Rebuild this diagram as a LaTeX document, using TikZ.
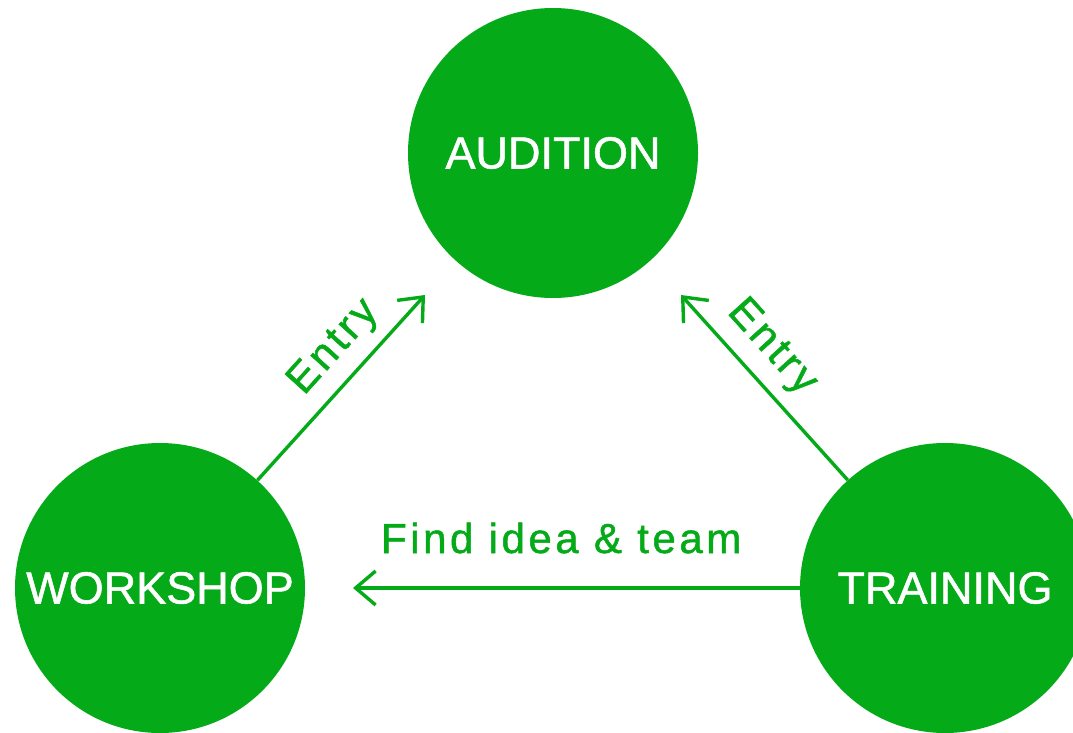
\documentclass[tikz,border=0pt]{standalone}
\usepackage{fontspec}
\setmainfont{Liberation Sans}
\newfontfamily\stagefont[FakeBold=1.2]{Liberation Sans}
\newfontfamily\labelfont[LetterSpace=8.5, FakeBold=1.2]{Liberation Sans}
\usetikzlibrary{arrows.meta}
\definecolor{brandgreen}{RGB}{5,170,25}
\tikzset{
  stage/.style={circle, fill=brandgreen, minimum size=290pt, inner sep=0pt,
    text=white, font=\stagefont\fontsize{45}{45}\selectfont},
  flow/.style={draw=brandgreen, line width=3.4pt,
    -{Straight Barb[length=20pt, width=34pt, line width=3.4pt]}},
  flowlabel/.style={text=brandgreen, font=\labelfont\fontsize{42}{42}\selectfont, inner sep=0pt}
}
\begin{document}
\begin{tikzpicture}[x=1pt, y=-1pt]
\useasboundingbox (0,0) rectangle (1073,733);
\clip (0,0) rectangle (1073,733);
\node[stage] (A) at (553,153) {\raisebox{-8pt}{AUDITION}};
\node[stage] (W) at (160,588) {\raisebox{-6pt}{WORKSHOP}};
\node[stage] (T) at (945,588) {\raisebox{-6pt}{TRAINING}};
\coordinate (tipL) at (425,295);
\coordinate (tipR) at (681,295);
\coordinate (tipH) at (353,588);
\draw[flow] (W) -- (tipL) node[flowlabel, pos=0.6, sloped, anchor=base, yshift=22pt] (e1) {Entry};
\draw[flow] (T) -- (tipR) node[flowlabel, pos=0.6, sloped, anchor=base, yshift=22pt] (e2) {Entry};
\draw[flow] (T) -- (tipH) node[flowlabel, pos=0.534, anchor=base, yshift=35pt] (f) {Find idea \& team};
\end{tikzpicture}
\end{document}
